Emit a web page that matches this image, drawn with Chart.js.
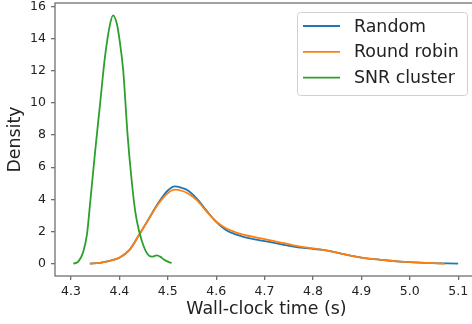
<!DOCTYPE html>
<html lang="en">
<head>
    <meta charset="UTF-8">
    <title>Wall-clock time density</title>
    <script src="https://cdn.jsdelivr.net/npm/chart.js"></script>
    <style>
        html, body { margin: 0; padding: 0; background: #fff; overflow: hidden; }
        #wrap { width: 472px; height: 324px; overflow: hidden; }
    </style>
</head>
<body>
    <div id="wrap">
        <canvas id="kde" width="478" height="324"></canvas>
    </div>

    <script>
        // values
        const seriesNames = ['Random', 'Round robin', 'SNR cluster'];
        const seriesColors = ['#1f77b4', '#ff7f0e', '#2ca02c'];

        const randomX = [4.339, 4.36, 4.38, 4.40, 4.42, 4.44, 4.46, 4.48, 4.50, 4.515, 4.53, 4.54, 4.56, 4.58, 4.60, 4.62, 4.64, 4.66, 4.68, 4.70, 4.72, 4.74, 4.76, 4.78, 4.80, 4.82, 4.84, 4.86, 4.88, 4.90, 4.92, 4.94, 4.96, 4.98, 5.00, 5.02, 5.04, 5.06, 5.08, 5.10];
        const randomY = [0.0, 0.05, 0.17, 0.37, 0.82, 1.75, 2.75, 3.75, 4.55, 4.81, 4.7, 4.58, 4.05, 3.3, 2.6, 2.1, 1.82, 1.64, 1.51, 1.4, 1.29, 1.17, 1.06, 0.98, 0.92, 0.85, 0.75, 0.61, 0.48, 0.38, 0.3, 0.24, 0.18, 0.13, 0.09, 0.06, 0.04, 0.02, 0.01, 0.0];

        const robinX = [4.339, 4.36, 4.38, 4.40, 4.42, 4.44, 4.46, 4.48, 4.50, 4.515, 4.53, 4.54, 4.56, 4.58, 4.60, 4.62, 4.64, 4.66, 4.68, 4.70, 4.72, 4.74, 4.76, 4.78, 4.80, 4.82, 4.84, 4.86, 4.88, 4.90, 4.92, 4.94, 4.96, 4.98, 5.00, 5.02, 5.04, 5.06, 5.072];
        const robinY = [0.0, 0.05, 0.17, 0.37, 0.82, 1.75, 2.75, 3.7, 4.38, 4.6, 4.52, 4.4, 3.95, 3.25, 2.62, 2.2, 1.95, 1.78, 1.65, 1.52, 1.4, 1.27, 1.14, 1.03, 0.95, 0.86, 0.75, 0.61, 0.48, 0.38, 0.3, 0.24, 0.18, 0.13, 0.09, 0.06, 0.04, 0.02, 0.0];

        const snrX = [4.305, 4.315, 4.325, 4.333, 4.34, 4.35, 4.36, 4.37, 4.38, 4.387, 4.395, 4.40, 4.408, 4.417, 4.425, 4.433, 4.441, 4.45, 4.458, 4.467, 4.477, 4.485, 4.492, 4.50, 4.508];
        const snrY = [0.0, 0.12, 0.7, 1.8, 3.9, 7.0, 9.9, 12.8, 14.8, 15.45, 14.9, 14.0, 12.0, 8.0, 5.3, 3.2, 2.0, 1.1, 0.6, 0.43, 0.51, 0.42, 0.25, 0.12, 0.04];

        const xTicks = [4.3, 4.4, 4.5, 4.6, 4.7, 4.8, 4.9, 5.0, 5.1];
        const yTicks = [0, 2, 4, 6, 8, 10, 12, 14, 16];

        const pairs = (xs, ys) => xs.map((x, i) => ({ x: x, y: ys[i] }));
        const allX = [randomX, robinX, snrX];
        const allY = [randomY, robinY, snrY];

        const FONT = "'DejaVu Sans', sans-serif";
        const INK = '#222';
        const SPINE = '#707070';

        // matplotlib style box round the axes
        const spines = {
            id: 'spines',
            afterDatasetsDraw(chart) {
                const { ctx, chartArea: a } = chart;
                ctx.save();
                ctx.strokeStyle = SPINE;
                ctx.lineWidth = 1.3;
                ctx.strokeRect(a.left, a.top, a.right - a.left, a.bottom - a.top);
                ctx.restore();
            }
        };

        // legend in the upper right corner
        const cornerLegend = {
            id: 'cornerLegend',
            afterDraw(chart) {
                const ctx = chart.ctx;
                const bx = 297, by = 12, bw = 170, bh = 83;
                ctx.save();
                ctx.fillStyle = 'rgba(255,255,255,0.85)';
                ctx.strokeStyle = '#d0d0d0';
                ctx.lineWidth = 1;
                ctx.beginPath();
                ctx.roundRect(bx + 0.5, by + 0.5, bw, bh, 3);
                ctx.fill();
                ctx.stroke();
                ctx.font = '17.4px ' + FONT;
                ctx.textBaseline = 'middle';
                ctx.fillStyle = INK;
                chart.data.datasets.forEach((ds, i) => {
                    const cy = 26 + i * 25.8;
                    ctx.strokeStyle = ds.borderColor;
                    ctx.lineWidth = 1.8;
                    ctx.beginPath();
                    ctx.moveTo(303, cy);
                    ctx.lineTo(340, cy);
                    ctx.stroke();
                    ctx.fillText(ds.label, 354, cy + 1);
                });
                ctx.restore();
            }
        };

        const ctx = document.getElementById('kde').getContext('2d');
        new Chart(ctx, {
            type: 'scatter',
            data: {
                datasets: seriesNames.map((name, i) => ({
                    label: name,
                    data: pairs(allX[i], allY[i]),
                    showLine: true,
                    borderColor: seriesColors[i],
                    backgroundColor: seriesColors[i],
                    borderWidth: 1.8,
                    pointRadius: 0,
                    cubicInterpolationMode: 'monotone',
                    order: 3 - i
                }))
            },
            options: {
                responsive: false,
                animation: false,
                devicePixelRatio: 1,
                layout: { padding: { top: 3, left: 0, right: 0, bottom: 0 } },
                plugins: {
                    legend: { display: false },
                    tooltip: { enabled: false }
                },
                scales: {
                    x: {
                        type: 'linear',
                        min: 4.267,
                        max: 5.141,
                        afterBuildTicks: s => { s.ticks = xTicks.map(v => ({ value: v })); },
                        afterFit: s => { s.height = 48; s.paddingLeft = 0; s.paddingRight = 0; },
                        border: { display: false },
                        grid: { drawOnChartArea: false, drawTicks: true, tickLength: 4, tickColor: SPINE, lineWidth: 1.3 },
                        ticks: {
                            color: INK,
                            padding: 4,
                            maxRotation: 0,
                            font: { family: FONT, size: 12.5 },
                            callback: v => v.toFixed(1)
                        },
                        title: {
                            display: true,
                            text: 'Wall-clock time (s)',
                            color: INK,
                            font: { family: FONT, size: 17.4 },
                            padding: { top: 0, bottom: 4 }
                        }
                    },
                    y: {
                        type: 'linear',
                        min: -0.77,
                        max: 16.22,
                        afterBuildTicks: s => { s.ticks = yTicks.map(v => ({ value: v })); },
                        afterFit: s => { s.width = 55; s.paddingTop = 0; s.paddingBottom = 0; },
                        border: { display: false },
                        grid: { drawOnChartArea: false, drawTicks: true, tickLength: 4, tickColor: SPINE, lineWidth: 1.3 },
                        ticks: {
                            color: INK,
                            padding: 5,
                            font: { family: FONT, size: 12.5 }
                        },
                        title: {
                            display: true,
                            text: 'Density',
                            color: INK,
                            font: { family: FONT, size: 17.4 },
                            padding: { top: 5, bottom: 0 }
                        }
                    }
                }
            },
            plugins: [spines, cornerLegend]
        });
    </script>
</body>
</html>
